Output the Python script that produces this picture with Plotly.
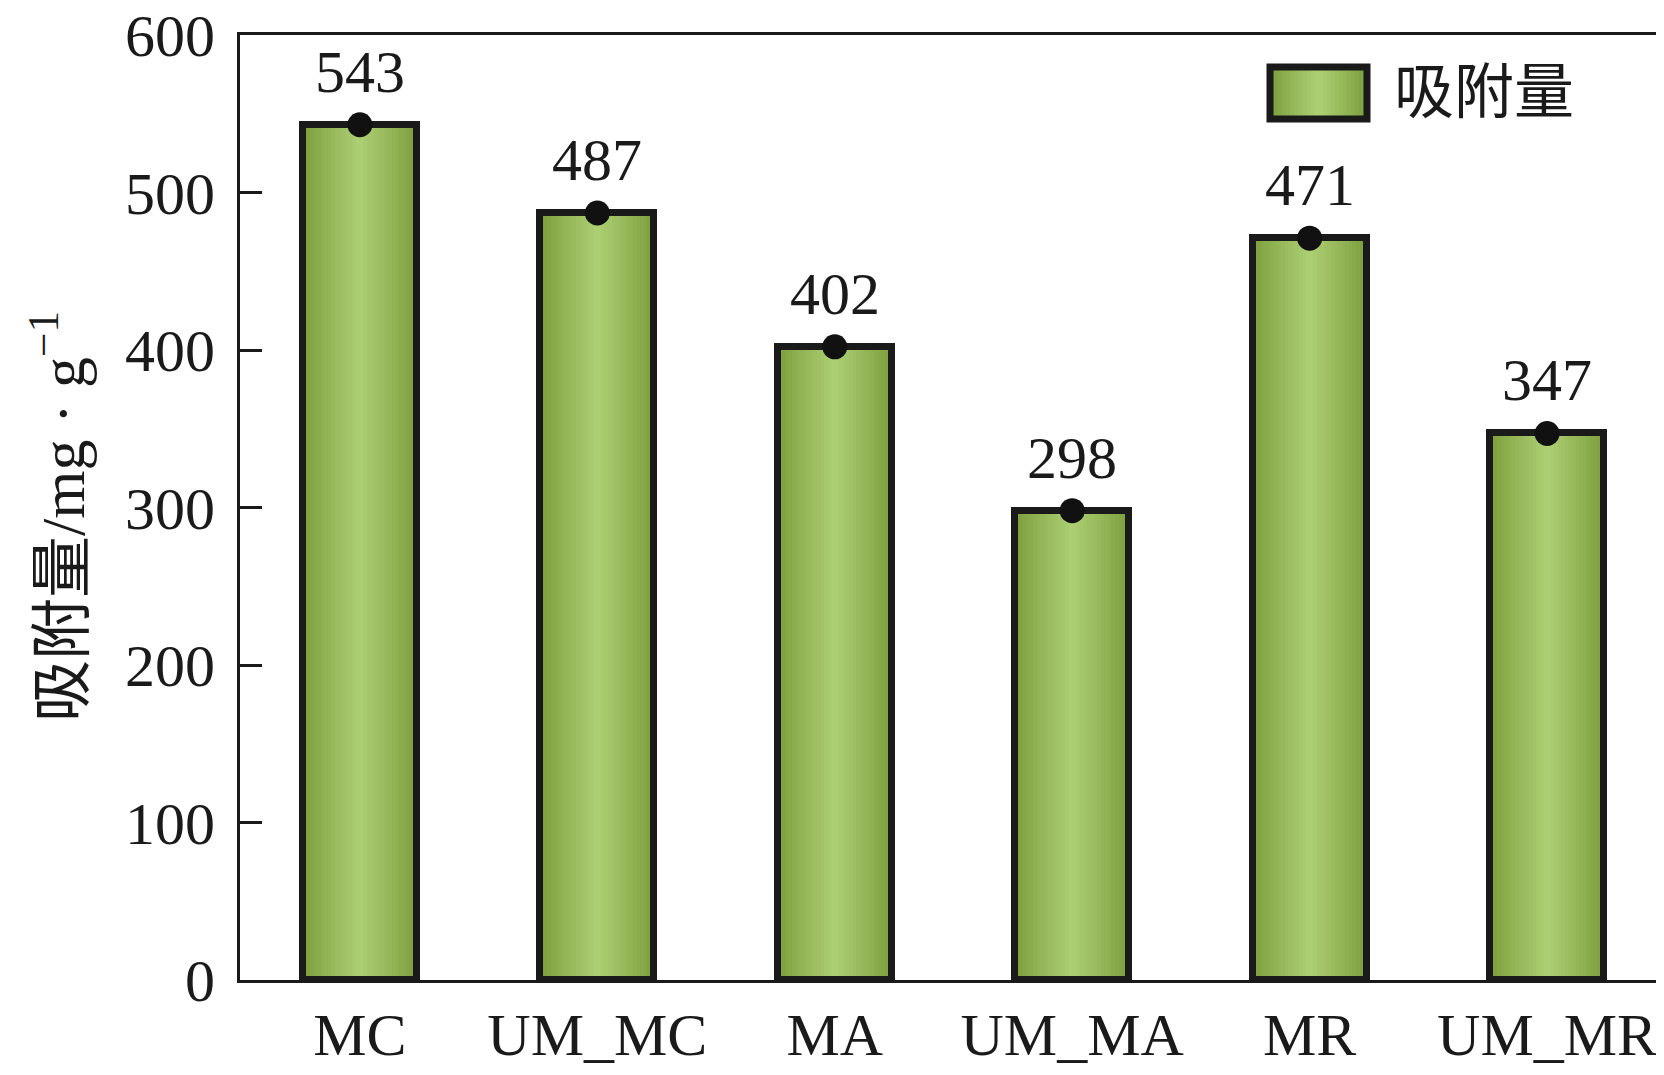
import plotly.graph_objects as go

categories = ["MC", "UM_MC", "MA", "UM_MA", "MR", "UM_MR"]
adsorption = [543, 487, 402, 298, 471, 347]
label_text = ["543", "487", "402", "298", "471", "347"]
y_ticks = [0, 100, 200, 300, 400, 500, 600]
series_name = "吸附量"
y_title = "吸附量/mg · g<sup>−1</sup>"

OFF = 6  # page body margin compensation
W, H = 1664 - 8, 1075 - 8
ML, MT = 238 - OFF, 33 - OFF
MR = W - (1660 - OFF)
MB = H - (981 - OFF - 3)
PW, PH = W - ML - MR, H - MT - MB

FONT = "Liberation Serif, Times New Roman, Noto Sans CJK SC, serif"
TXT = "#1a1a1a"

edge = (124, 158, 60)
center = (171, 206, 114)

def mix(t):
    return "rgb(%d,%d,%d)" % tuple(round(edge[i] + (center[i] - edge[i]) * t) for i in range(3))

fig = go.Figure()
BW = 0.48
N = 16
for k in range(N):
    frac = 1 - k / N
    t = (k / (N - 1)) ** 0.9
    fig.add_trace(go.Bar(x=categories, y=adsorption, width=BW * frac,
                         marker=dict(color=mix(t), line=dict(width=0)),
                         showlegend=False, hoverinfo="skip"))
# outline
fig.add_trace(go.Bar(x=categories, y=adsorption, width=BW,
                     marker=dict(color="rgba(0,0,0,0)", line=dict(color="#1a1a1a", width=7)),
                     showlegend=False, name=series_name))
# dots
fig.add_trace(go.Scatter(x=categories, y=adsorption, mode="markers",
                         marker=dict(color="#111111", size=25),
                         cliponaxis=False, showlegend=False))

for c, v, s in zip(categories, adsorption, label_text):
    fig.add_annotation(x=c, y=v, text=s, showarrow=False, yanchor="bottom",
                       yshift=18, font=dict(family=FONT, size=60, color=TXT))

# manual legend (reference pixel coordinates)
lx0, lx1 = 1268, 1365
ly0, ly1 = 65, 117
def px_x(p):
    return (p - OFF - ML) / PW
def px_y(p):
    return (MT + PH - (p - OFF)) / PH
NL = 12
for k in range(NL):
    frac = 1 - k / NL
    t = (k / (NL - 1)) ** 0.9
    cx = (lx0 + lx1) / 2
    hw = (lx1 - lx0) / 2 * frac
    fig.add_shape(type="rect", xref="paper", yref="paper",
                  x0=px_x(cx - hw), x1=px_x(cx + hw), y0=px_y(ly1), y1=px_y(ly0),
                  line=dict(width=0), fillcolor=mix(t), layer="above")
fig.add_shape(type="rect", xref="paper", yref="paper",
              x0=px_x(lx0), x1=px_x(lx1), y0=px_y(ly1), y1=px_y(ly0),
              line=dict(width=7, color="#1a1a1a"), fillcolor="rgba(0,0,0,0)", layer="above")
fig.add_annotation(xref="paper", yref="paper", x=px_x(1390), y=px_y((ly0 + ly1) / 2),
                   xanchor="left", yanchor="middle", showarrow=False, text=series_name,
                   font=dict(family=FONT, size=60, color=TXT))

# y title
fig.add_annotation(xref="paper", yref="paper", x=px_x(56), y=px_y(515),
                   xanchor="center", yanchor="middle", showarrow=False, textangle=-90,
                   text=y_title, font=dict(family=FONT, size=62, color=TXT))

fig.update_layout(
    width=W, height=H, barmode="overlay", bargap=0,
    margin=dict(l=ML, r=MR, t=MT, b=MB, pad=0, autoexpand=False),
    paper_bgcolor="white", plot_bgcolor="white",
    font=dict(family=FONT, color=TXT),
    showlegend=False,
)
fig.update_xaxes(range=[-0.505, 5.484], showline=True, linecolor="#1a1a1a", linewidth=3,
                 mirror=True, ticks="", showgrid=False, zeroline=False, automargin=False,
                 tickfont=dict(family=FONT, size=60, color=TXT), ticklabelstandoff=0)
fig.update_yaxes(range=[0, 600], tickvals=y_ticks, showline=True, linecolor="#1a1a1a",
                 linewidth=3, mirror=True, ticks="inside", ticklen=22, tickwidth=3,
                 tickcolor="#1a1a1a", showgrid=False, zeroline=False, automargin=False,
                 ticklabeloverflow="allow",
                 tickfont=dict(family=FONT, size=60, color=TXT), ticklabelstandoff=10)

fig.write_html("out.html")
